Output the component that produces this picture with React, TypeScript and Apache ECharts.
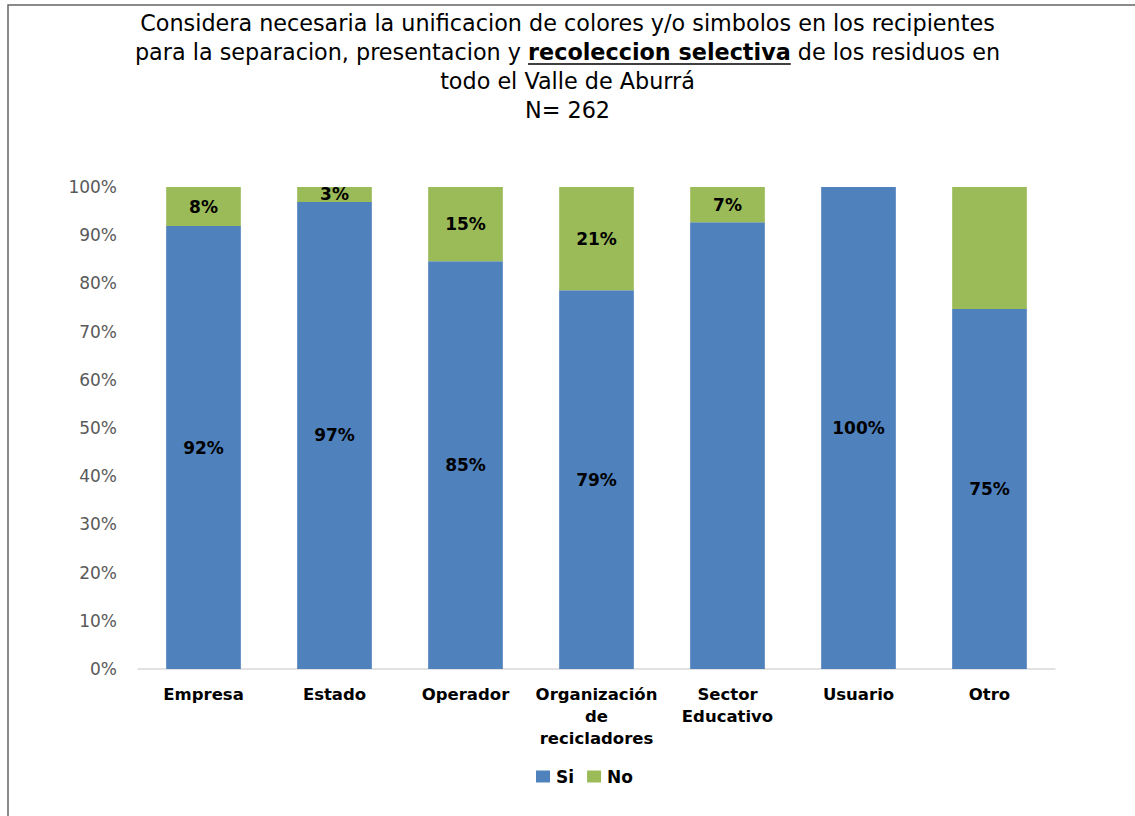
import React, { useEffect, useRef } from "react";
import * as echarts from "echarts";

const categories = ["Empresa", "Estado", "Operador", "Organización\nde\nrecicladores", "Sector\nEducativo", "Usuario", "Otro"];
const siValues = [91.9, 96.9, 84.6, 78.6, 92.7, 100, 74.7];
const noValues = [8.1, 3.1, 15.4, 21.4, 7.3, 0, 25.3];
const siLabelShown = [true, true, true, true, false, true, true];
const noLabelShown = [true, true, true, true, true, false, false];
const yTicks = [0, 10, 20, 30, 40, 50, 60, 70, 80, 90, 100];

const titleLine1 = "Considera necesaria la unificacion de colores y/o simbolos en los recipientes";
const titleLine2a = "para la separacion, presentacion y ";
const titleLine2b = "recoleccion selectiva";
const titleLine2c = " de los residuos en";
const titleLine3 = "todo el Valle de Aburrá";
const titleLine4 = "N= 262";

const FONT_NAME = "DejaVu Sans";
const FONT = '"DejaVu Sans", sans-serif';
const TITLE_SIZE = 22.3;
const LABEL_SIZE = 16.5;

function measure(text: string, font: string): number {
  const c = document.createElement("canvas");
  const ctx = c.getContext("2d");
  if (!ctx) return text.length * 10;
  ctx.font = font;
  return ctx.measureText(text).width;
}

export default function App() {
  const ref = useRef<HTMLDivElement>(null);
  useEffect(() => {
    if (!ref.current) return;
    const chart = echarts.init(ref.current, undefined, { renderer: "svg" });
    const W = 1135;
    const w1 = measure(titleLine2a, `${TITLE_SIZE}px "${FONT_NAME}"`);
    const w2 = measure(titleLine2b, `bold ${TITLE_SIZE}px "${FONT_NAME}"`);
    const w3 = measure(titleLine2c, `${TITLE_SIZE}px "${FONT_NAME}"`);
    const total = w1 + w2 + w3;
    const ulStart = W / 2 - total / 2 + w1;
    const ulEnd = ulStart + w2;

    const labelStyle = {
      show: true,
      position: "inside",
      fontFamily: FONT,
      fontSize: 17,
      fontWeight: "bold",
      color: "#000",
      formatter: (p: any) => `${Math.round(p.value)}%`,
    };

    chart.setOption({
      animation: false,
      backgroundColor: "#ffffff",
      title: {
        left: "center",
        top: 3,
        text:
          `{n|${titleLine1}}\n{n|${titleLine2a}}{b|${titleLine2b}}{n|${titleLine2c}}\n{n|${titleLine3}}\n{n|${titleLine4}}`,
        textStyle: {
          fontWeight: "normal",
          rich: {
            n: { fontFamily: FONT, fontSize: TITLE_SIZE, fontWeight: "normal", color: "#000", lineHeight: 29 },
            b: { fontFamily: FONT, fontSize: TITLE_SIZE, fontWeight: "bold", color: "#000", lineHeight: 29 },
          },
        },
      },
      graphic: [
        {
          type: "polyline",
          shape: { points: [[8, 816], [8, 5], [1135, 5]] },
          style: { stroke: "#666", lineWidth: 1.5, fill: "none" },
          silent: true,
        },
        {
          type: "line",
          shape: { x1: ulStart, y1: 64, x2: ulEnd, y2: 64 },
          style: { stroke: "#000", lineWidth: 1.5 },
          silent: true,
        },
      ],
      legend: {
        left: 531,
        top: 763,
        itemWidth: 14,
        itemHeight: 12,
        itemGap: 13,
        icon: "rect",
        textStyle: { fontFamily: FONT, fontSize: 17, fontWeight: "bold", color: "#000", padding: [0, 0, 0, 1] },
        data: ["Si", "No"],
      },
      grid: { left: 138, right: 80, top: 187, bottom: 147, containLabel: false },
      xAxis: {
        type: "category",
        data: categories,
        axisLine: { show: true, lineStyle: { color: "#d9d9d9", width: 1.5 } },
        axisTick: { show: false },
        axisLabel: {
          interval: 0,
          margin: 14,
          fontFamily: FONT,
          fontSize: LABEL_SIZE,
          fontWeight: "bold",
          color: "#000",
          lineHeight: 22,
        },
      },
      yAxis: {
        type: "value",
        min: yTicks[0],
        max: yTicks[yTicks.length - 1],
        interval: 10,
        axisLine: { show: false },
        axisTick: { show: false },
        splitLine: { show: false },
        axisLabel: {
          margin: 21,
          fontFamily: FONT,
          fontSize: 17,
          color: "#595959",
          formatter: (v: number) => `${v}%`,
        },
      },
      series: [
        {
          name: "Si",
          type: "bar",
          stack: "total",
          barWidth: "57%",
          data: siValues.map((v, i) => ({ value: v, label: { show: siLabelShown[i] } })),
          itemStyle: { color: "#4F81BD" },
          label: labelStyle,
        },
        {
          name: "No",
          type: "bar",
          stack: "total",
          barWidth: "57%",
          data: noValues.map((v, i) => ({ value: v, label: { show: noLabelShown[i] } })),
          itemStyle: { color: "#9BBB59" },
          label: labelStyle,
        },
      ],
    });
    return () => chart.dispose();
  }, []);
  return (
    <div
      ref={ref}
      style={{ position: "absolute", left: 0, top: 0, width: 1135, height: 816, background: "#fff" }}
    />
  );
}
